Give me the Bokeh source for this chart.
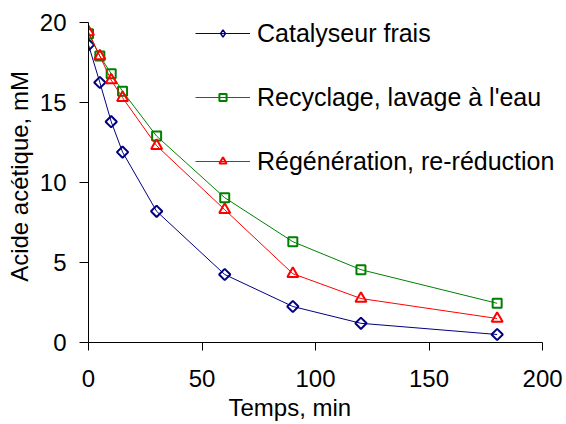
import math
from bokeh.plotting import figure
from bokeh.models import Range1d, Legend, LegendItem, FixedTicker, Title
from bokeh.embed import file_html
from bokeh.resources import INLINE

# ---- data ----
temps = [0, 5, 10, 15, 30, 60, 90, 120, 180]
frais = [18.6, 16.25, 13.8, 11.9, 8.2, 4.25, 2.25, 1.2, 0.5]
recyclage = [19.3, 17.9, 16.8, 15.7, 12.9, 9.05, 6.3, 4.55, 2.45]
regeneration = [19.4, 17.9, 16.4, 15.3, 12.3, 8.3, 4.3, 2.75, 1.5]
x_ticks = [0, 50, 100, 150, 200]
y_ticks = [0, 5, 10, 15, 20]
series_labels = ["Catalyseur frais", "Recyclage, lavage à l'eau", "Régénération, re-réduction"]
x_title = "Temps, min"
y_title = "Acide acétique, mM"

FONT = "Liberation Sans"

# frame spans 88..560 x 10..342 px; the axes themselves are bounded to the tick span
p = figure(width=566, height=424, x_range=Range1d(0, 207.9), y_range=Range1d(0, 20.75),
           output_backend="svg", toolbar_location=None,
           min_border_left=88, min_border_right=6, min_border_top=10, min_border_bottom=82)
p.outline_line_color = None
p.xgrid.visible = False
p.ygrid.visible = False
p.background_fill_color = "white"
p.border_fill_color = "white"

for ax, tout in ((p.xaxis, 8), (p.yaxis, 9)):
    ax.axis_line_color = "#000000"
    ax.axis_line_width = 1
    ax.major_tick_line_color = "#000000"
    ax.major_tick_in = 0
    ax.major_tick_out = tout
    ax.minor_tick_line_color = None
    ax.major_label_text_font = FONT
    ax.major_label_text_font_size = "24px"
    ax.major_label_text_color = "#000000"
p.xaxis.ticker = FixedTicker(ticks=x_ticks)
p.yaxis.ticker = FixedTicker(ticks=y_ticks)
p.xaxis.bounds = (x_ticks[0], x_ticks[-1])
p.yaxis.bounds = (y_ticks[0], y_ticks[-1])
p.xaxis.major_label_standoff = 19
p.yaxis.major_label_standoff = 13

p.yaxis.axis_label = y_title
p.yaxis.axis_label_text_font = FONT
p.yaxis.axis_label_text_font_size = "24px"
p.yaxis.axis_label_text_font_style = "normal"
p.yaxis.axis_label_text_color = "#000000"
p.yaxis.axis_label_standoff = 4

p.add_layout(Title(text=x_title, align="left", offset=140, standoff=5,
                   text_font=FONT, text_font_size="24px", text_font_style="normal",
                   text_color="#000000"), "below")

c_blue, c_green, c_red = "#000080", "#008000", "#FF0000"

l1 = p.line(temps, frais, line_color=c_blue, line_width=1)
m1 = p.scatter(temps, frais, marker="square", angle=math.pi / 4, size=8,
               line_color=c_blue, line_width=2, fill_color=None)
# legend-only diamond (the rotated square is not rotated in legends)
m1_leg = p.scatter(temps, frais, marker="diamond", size=9,
                   line_color=c_blue, line_width=1.5, fill_color=None, visible=False)
l2 = p.line(temps, recyclage, line_color=c_green, line_width=1)
m2 = p.scatter(temps, recyclage, marker="square", size=9,
               line_color=c_green, line_width=2, fill_color=None)
l3 = p.line(temps, regeneration, line_color=c_red, line_width=1)
m3 = p.scatter(temps, regeneration, marker="triangle", size=11,
               line_color=c_red, line_width=2, fill_color=None)

legend = Legend(items=[
    LegendItem(label=series_labels[0], renderers=[l1, m1_leg]),
    LegendItem(label=series_labels[1], renderers=[l2, m2]),
    LegendItem(label=series_labels[2], renderers=[l3, m3]),
], location=(107, 166), glyph_width=55, glyph_height=18, label_height=30,
   label_standoff=7, spacing=34, padding=0, margin=0, click_policy="none",
   inactive_fill_alpha=0,
   border_line_alpha=0, background_fill_alpha=0,
   label_text_font=FONT, label_text_font_size="25px", label_text_color="#000000")
p.add_layout(legend)

open("out.html", "w").write(file_html(p, INLINE))
